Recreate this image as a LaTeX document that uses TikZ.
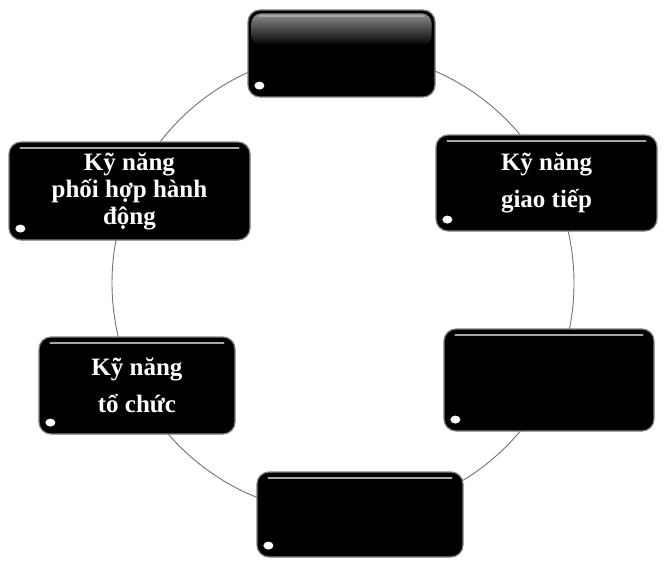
\documentclass[tikz,border=0pt]{standalone}
\usepackage{fontspec}
\setmainfont{Liberation Serif}
\begin{document}
\begin{tikzpicture}[x=1pt,y=-1pt,
  box/.style={draw=black!50, line width=1.2pt, fill=black, rounded corners=12pt,
    text=white, align=center, inner sep=0pt,
    font=\bfseries\fontsize{25}{37}\selectfont},
  tight/.style={font=\bfseries\fontsize{25}{27}\selectfont},
  ring/.style={draw=black!55, line width=0.9pt},
  dot/.style={fill=white},
  gloss/.style={draw=black!35, line width=2pt, line cap=round}]
\useasboundingbox (0,0) rectangle (667,560);
\coordinate (c) at (343,283);
\draw[ring] (c) circle[radius=231];

\node[box, minimum width=187pt, minimum height=87pt] (top) at (341.5,53.5) {};
\node[box, tight, minimum width=241pt, minimum height=98pt] (l1) at (129.5,191) {Kỹ năng\\phối hợp hành\\động};
\node[box, minimum width=221pt, minimum height=96pt] (r1) at (546.5,183) {Kỹ năng\\giao tiếp};
\node[box, minimum width=196pt, minimum height=97pt] (l2) at (137,385.5) {Kỹ năng\\tổ chức};
\node[box, minimum width=210pt, minimum height=102pt] (r2) at (549,380) {};
\node[box, minimum width=206pt, minimum height=85pt] (bot) at (360,514.5) {};

% top box glossy texture
\path[top color=black!45, bottom color=black, rounded corners=10pt]
  ([shift={(4pt,-4pt)}]top.north west) rectangle ([shift={(-4pt,8pt)}]top.east);

\foreach \b in {top,l1,r1,l2,r2,bot}{
  \draw[gloss] ([shift={(12pt,-7pt)}]\b.north west) -- ([shift={(-12pt,-7pt)}]\b.north east);
  \fill[dot] ([shift={(12pt,12pt)}]\b.south west) ellipse[x radius=5pt, y radius=4pt];
}
\end{tikzpicture}
\end{document}
